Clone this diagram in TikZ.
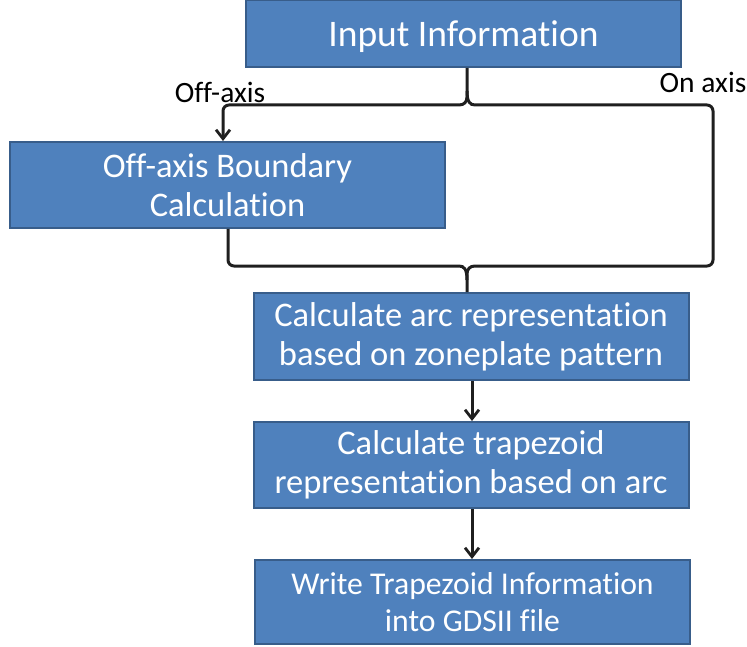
\documentclass[tikz,border=0pt]{standalone}
\usepackage{fontspec}
\setmainfont{Carlito}[Ligatures={NoCommon,NoRequired,NoContextual}]
\usetikzlibrary{arrows.meta,calc}
\definecolor{boxfill}{HTML}{4F81BD}
\definecolor{boxline}{HTML}{385D8A}
\tikzset{
  flowbox/.style={draw=boxline, fill=boxfill, line width=2pt, text=white, align=center,
    inner sep=0pt, minimum width=435pt, font=\fontsize{34.5}{39}\selectfont},
  link/.style={line width=3pt, draw=black!88},
  tipped/.style={-{Straight Barb[length=9pt,width=14pt,line width=2.8pt]}},
  lbl/.style={font=\fontsize{29.5}{34}\selectfont, inner sep=0pt}
}
\begin{document}
\begin{tikzpicture}[x=1pt,y=-1pt]
\useasboundingbox (0,0) rectangle (747,647);
% boxes
\node[flowbox, minimum width=435pt, minimum height=67pt, text height=34pt, text depth=7.5pt,
  font=\fontsize{37.5}{42}\selectfont] (in) at (463.5,33.5) {Input Information};
\node[flowbox, minimum height=86pt] (off) at (227.5,185) {Off-axis Boundary\\Calculation};
\node[flowbox, minimum height=87pt] (arc) at (471,336.5) {Calculate arc representation\\based on zoneplate pattern};
\node[flowbox, minimum height=86pt] (trap) at (471,465) {Calculate trapezoid\\representation based on arc};
\node[flowbox, minimum height=84pt, font=\fontsize{31.7}{37}\selectfont] (write) at (472.5,602) {Write Trapezoid Information\\into GDSII file};
% helper coordinates
\coordinate (tb) at (467,105);
\coordinate (bb) at (467,266);
\coordinate (lin) at (223,0);
\coordinate (lout) at (228,0);
\coordinate (rx) at (713,0);
% top brace
\draw[link,tipped,rounded corners=6pt] (in.south -| tb) -- ($(tb)+(0,-14)$)
  .. controls ($(tb)+(0,-3)$) and ($(tb)+(-3,0)$) .. ($(tb)+(-14,0)$)
  -- (tb -| lin) -- (off.north -| lin);
\draw[link,rounded corners=6pt] ($(tb)+(0,-14)$)
  .. controls ($(tb)+(0,-3)$) and ($(tb)+(3,0)$) .. ($(tb)+(14,0)$)
  -- (tb -| rx) -- (bb -| rx) -- ($(bb)+(14,0)$)
  .. controls ($(bb)+(3,0)$) and ($(bb)+(0,3)$) .. ($(bb)+(0,14)$)
  -- (arc.north -| bb);
% bottom brace left part
\draw[link,rounded corners=6pt] (off.south -| lout) -- (bb -| lout) -- ($(bb)+(-14,0)$)
  .. controls ($(bb)+(-3,0)$) and ($(bb)+(0,3)$) .. ($(bb)+(0,14)$);
% lower arrows
\draw[link,tipped] (arc.south -| 472,0) -- (trap.north -| 472,0);
\draw[link,tipped] (trap.south -| 472,0) -- (write.north -| 472,0);
% labels
\node[lbl] (loff) at (220,92) {Off-axis};
\node[lbl] (lon) at (703,82) {On axis};
\end{tikzpicture}
\end{document}
